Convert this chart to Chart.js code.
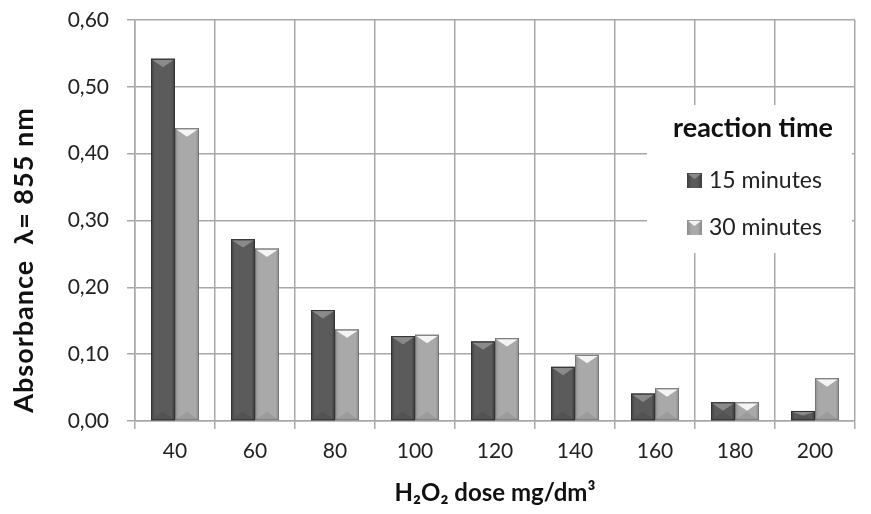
<!DOCTYPE html>
<html>
<head>
<meta charset="utf-8">
<script src="https://cdn.jsdelivr.net/npm/chart.js@4.4.0/dist/chart.umd.min.js"></script>
<style>
html,body{margin:0;padding:0;background:#fff;}
canvas{display:block;}
</style>
</head>
<body>
<canvas id="c" width="871" height="514"></canvas>
<script>
const categories = ['40','60','80','100','120','140','160','180','200'];
const series15 = [0.542,0.272,0.166,0.127,0.119,0.081,0.041,0.028,0.015];
const series30 = [0.438,0.258,0.137,0.129,0.124,0.099,0.049,0.028,0.064];
const seriesLabels = ['15 minutes','30 minutes'];
const legendTitle = 'reaction time';
const yTitle = 'Absorbance  λ= 855 nm';
const xTitle = 'H₂O₂ dose mg/dm³';

const FONT = 'Lato, "Open Sans", sans-serif';
const palette = [
  {main:'#5b5b5b', edge:'#3c3c3c', top:'#8a8a8a', border:'#333'},
  {main:'#a9a9a9', edge:'#8c8c8c', top:'#f4f4f4', border:'#777'}
];

const bevelPlugin = {
  id:'bevel',
  afterDatasetsDraw(chart){
    const ctx = chart.ctx;
    chart.data.datasets.forEach((ds,i)=>{
      const meta = chart.getDatasetMeta(i);
      const p = palette[i];
      meta.data.forEach(el=>{
        const {x,y,base,width} = el.getProps(['x','y','base','width'],true);
        const l = x-width/2, r = x+width/2;
        ctx.save();
        const g = ctx.createLinearGradient(l,0,r,0);
        g.addColorStop(0,p.edge);
        g.addColorStop(0.15,p.main);
        g.addColorStop(0.85,p.main);
        g.addColorStop(1,p.edge);
        ctx.fillStyle = g;
        ctx.fillRect(l,y,width,base-y);
        const h = Math.min(width*0.35,(base-y)/2);
        ctx.fillStyle = p.top;
        ctx.beginPath();
        ctx.moveTo(l+1,y+1);ctx.lineTo(r-1,y+1);ctx.lineTo(x,y+h);ctx.closePath();
        ctx.fill();
        ctx.fillStyle = 'rgba(0,0,0,0.08)';
        ctx.beginPath();
        ctx.moveTo(l+1,base-1);ctx.lineTo(r-1,base-1);ctx.lineTo(x,base-h);ctx.closePath();
        ctx.fill();
        ctx.strokeStyle = p.border;
        ctx.lineWidth = 1;
        ctx.strokeRect(l+0.5,y+0.5,width-1,base-y-1);
        ctx.restore();
      });
    });
  }
};

const legendPlugin = {
  id:'boxLegend',
  afterDatasetsDraw(chart){
    const ctx = chart.ctx, a = chart.chartArea;
    const bx = a.right-208, by = a.top+85, bw = 205, bh = 148;
    ctx.save();
    ctx.fillStyle = '#fff';
    ctx.fillRect(bx,by,bw,bh);
    ctx.fillStyle = '#111';
    ctx.font = 'bold 27px '+FONT;
    ctx.textAlign = 'center';
    ctx.textBaseline = 'middle';
    ctx.fillText(legendTitle, bx+106, by+23);
    ctx.font = '23px '+FONT;
    ctx.textAlign = 'left';
    chart.data.datasets.forEach((ds,i)=>{
      const cy = by+75+i*47;
      const sx = bx+40;
      const p = palette[i];
      const g = ctx.createLinearGradient(sx,0,sx+15,0);
      g.addColorStop(0,p.edge);g.addColorStop(0.3,p.main);g.addColorStop(0.7,p.main);g.addColorStop(1,p.edge);
      ctx.fillStyle = g;
      ctx.fillRect(sx,cy-7,15,15);
      ctx.fillStyle = p.top;
      ctx.beginPath();ctx.moveTo(sx+1,cy-6);ctx.lineTo(sx+14,cy-6);ctx.lineTo(sx+7.5,cy-1);ctx.closePath();ctx.fill();
      ctx.fillStyle = '#222';
      ctx.fillText(ds.label, sx+22, cy+1);
    });
    ctx.restore();
  }
};

const yTitlePlugin = {
  id:'yTitle',
  afterDraw(chart){
    const ctx = chart.ctx;
    ctx.save();
    ctx.translate(24, chart.height/2 + 3);
    ctx.rotate(-Math.PI/2);
    ctx.font = 'bold 27px '+FONT;
    if ('letterSpacing' in ctx) ctx.letterSpacing = '1px';
    ctx.fillStyle = '#111';
    ctx.textAlign = 'center';
    ctx.textBaseline = 'middle';
    ctx.fillText(yTitle, 0, 0);
    ctx.restore();
  }
};

new Chart(document.getElementById('c'),{
  type:'bar',
  data:{
    labels:categories,
    datasets:[
      {label:seriesLabels[0], data:series15, backgroundColor:palette[0].main, categoryPercentage:0.6, barPercentage:1.0},
      {label:seriesLabels[1], data:series30, backgroundColor:palette[1].main, categoryPercentage:0.6, barPercentage:1.0}
    ]
  },
  options:{
    responsive:false,
    animation:false,
    layout:{padding:{top:20,right:16,left:0,bottom:0}},
    plugins:{legend:{display:false},tooltip:{enabled:false}},
    scales:{
      x:{
        afterFit(s){ s.height = 93; s.paddingLeft = 0; s.paddingRight = 0; },
        grid:{offset:true,color:'#a8a8a8',lineWidth:1.5,tickLength:8},
        border:{color:'#a8a8a8',width:1.5},
        ticks:{font:{family:FONT,size:21},color:'#222',padding:10},
        title:{display:true,text:xTitle,font:{family:FONT,size:24,weight:'bold'},color:'#111',padding:{top:0,bottom:6}}
      },
      y:{
        afterFit(s){ s.width = 135; s.paddingTop = 0; s.paddingBottom = 0; },
        min:0,max:0.6,
        grid:{color:'#a8a8a8',lineWidth:1.5,tickLength:8},
        border:{color:'#a8a8a8',width:1.5},
        ticks:{stepSize:0.1,font:{family:FONT,size:21},color:'#222',padding:18,
          callback:v=>v.toFixed(2).replace('.',',')},
        title:{display:false,text:yTitle}
      }
    }
  },
  plugins:[bevelPlugin,legendPlugin,yTitlePlugin]
});
</script>
</body>
</html>
